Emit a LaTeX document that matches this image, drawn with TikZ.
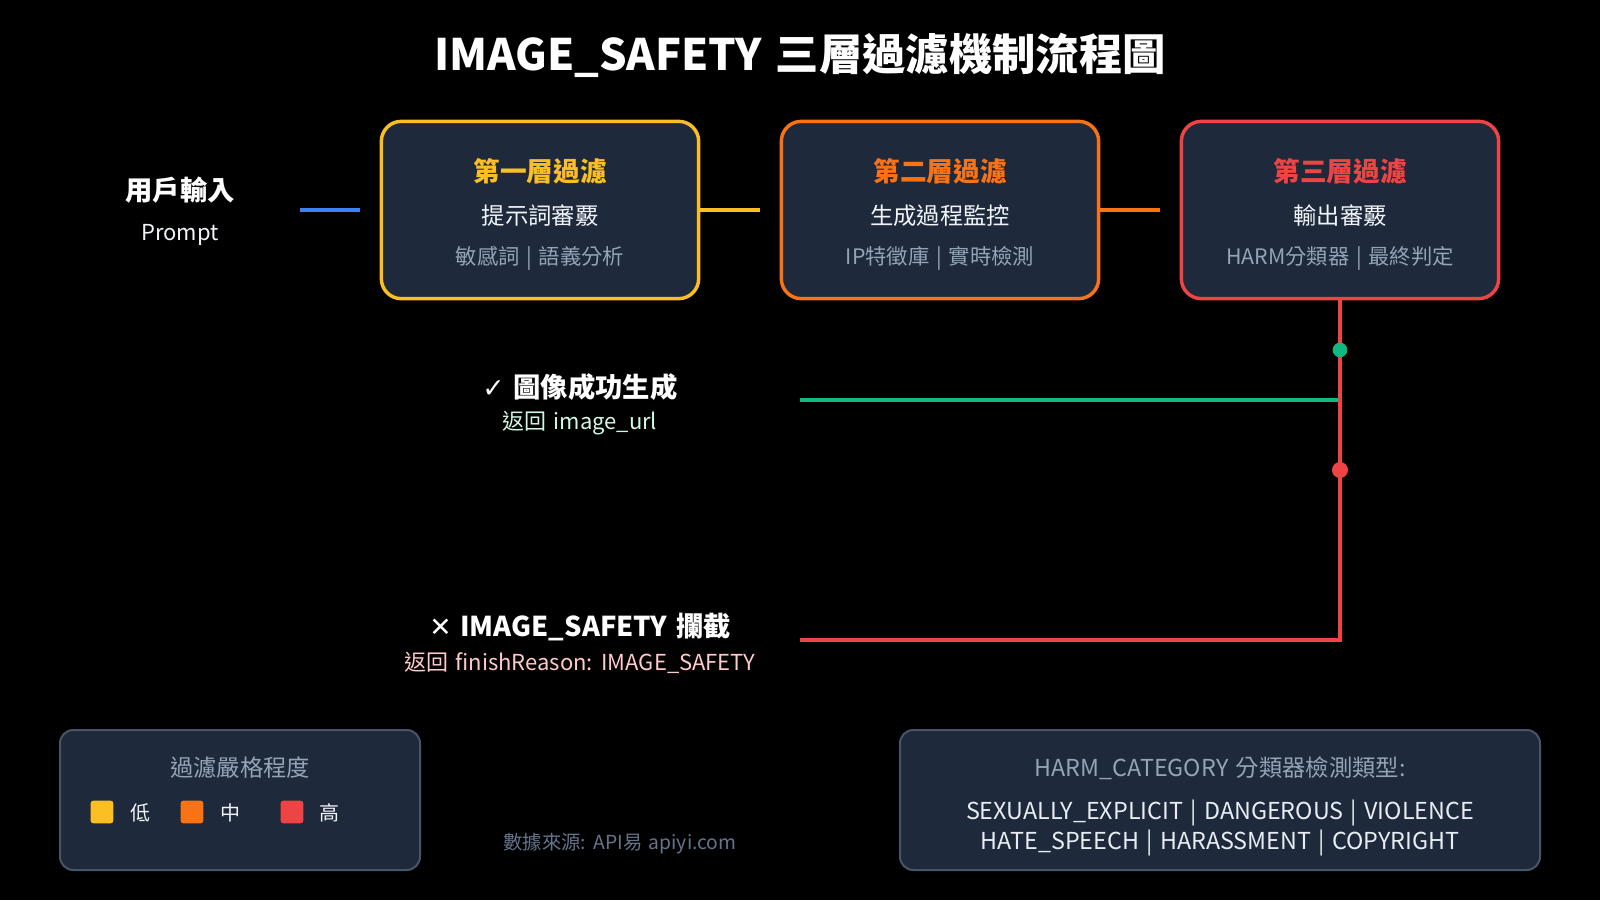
\documentclass[tikz,border=0pt]{standalone}
\usepackage{fontspec}
\setmainfont{Noto Sans CJK TC}[WordSpace=1.4]
\newfontfamily\symfont{DejaVu Sans}
\definecolor{boxfill}{HTML}{1E293B}
\definecolor{cyellow}{HTML}{FBBF24}
\definecolor{corange}{HTML}{F97316}
\definecolor{cred}{HTML}{EF4444}
\definecolor{cblue}{HTML}{3B82F6}
\definecolor{cgreen}{HTML}{10B981}
\definecolor{cgrey}{HTML}{94A3B8}
\definecolor{cdim}{HTML}{64748B}
\definecolor{cborder}{HTML}{475569}
\definecolor{cwhite}{HTML}{F1F5F9}
\definecolor{clgreen}{HTML}{D1FAE5}
\definecolor{clred}{HTML}{FECACA}
\tikzset{
  layer/.style={draw, fill=boxfill, line width=2.6pt, rounded corners=15pt,
    minimum width=238pt, minimum height=133pt, inner sep=0pt},
  legendbox/.style={draw=cborder, fill=boxfill, line width=1.5pt, rounded corners=10pt, inner sep=0pt},
  ltitle/.style={font=\fontsize{20}{24}\selectfont\bfseries, inner sep=0pt},
  lsub/.style={font=\fontsize{17.5}{21}\selectfont, text=cwhite, inner sep=0pt},
  lsmall/.style={font=\fontsize{16}{19}\selectfont, text=cgrey, inner sep=0pt},
  conn/.style={line width=3.3pt},
  swatch/.style={minimum size=17pt, inner sep=0pt, rounded corners=2pt},
  lbl/.style={inner sep=0pt, text=cwhite, font=\fontsize{15}{18}\selectfont},
}
\begin{document}
\begin{tikzpicture}[x=0.75pt,y=-0.75pt]
\fill[black] (0,0) rectangle (1600,900);
\useasboundingbox (0,0) rectangle (1600,900);

% title
\node[inner sep=0pt, text=white, font=\fontsize{32.5}{38}\selectfont\bfseries] (title) at (800,55) {IMAGE\_SAFETY 三層過濾機制流程圖};

% user input
\node[inner sep=0pt, text=white, font=\fontsize{20.5}{24}\selectfont\bfseries] (user) at (180,190) {用戶輸入};
\node[inner sep=0pt, text=cwhite, font=\fontsize{16.5}{20}\selectfont] (prompt) at (180,235) {Prompt};

% layers
\node[layer, draw=cyellow] (l1) at (540,210) {};
\node[layer, draw=corange] (l2) at (940,210) {};
\node[layer, draw=cred] (l3) at (1340,210) {};

\node[ltitle, text=cyellow] (l1t) at (540,171) {第一層過濾};
\node[lsub] (l1s) at (540,216) {提示詞審覈};
\node[lsmall] (l1d) at (540,258) {敏感詞 | 語義分析};

\node[ltitle, text=corange] (l2t) at (940,171) {第二層過濾};
\node[lsub] (l2s) at (940,216) {生成過程監控};
\node[lsmall] (l2d) at (940,258) {IP特徵庫 | 實時檢測};

\node[ltitle, text=cred] (l3t) at (1340,171) {第三層過濾};
\node[lsub] (l3s) at (1340,216) {輸出審覈};
\node[lsmall] (l3d) at (1340,258) {HARM分類器 | 最終判定};

% connectors
\coordinate (b0) at (300,210);
\coordinate (b1) at (360,210);
\coordinate (y1) at (760,210);
\coordinate (o1) at (1160,210);
\draw[conn, cblue] (b0) -- (b1);
\draw[conn, cyellow] (l1.east) -- (y1);
\draw[conn, corange] (l2.east) -- (o1);

\coordinate (gj) at (1340,400);
\coordinate (ge) at (800,400);
\coordinate (rc) at (1340,640);
\coordinate (re) at (800,640);
\draw[line width=2.6pt, cgreen] (gj) -- (ge);
\draw[conn, cred] (l3.south) -- (rc) -- (re);
\node[circle, fill=cgreen, minimum size=11pt, inner sep=0pt] (gdot) at (1340,350) {};
\node[circle, fill=cred, minimum size=12pt, inner sep=0pt] (rdot) at (1340,470) {};

% outcomes
\node[inner sep=0pt, text=white, font=\fontsize{20.5}{24}\selectfont\bfseries] (ok) at (580,387) {{\symfont\bfseries\fontsize{20}{22}\selectfont ✓} 圖像成功生成};
\node[inner sep=0pt, text=clgreen, font=\fontsize{16.5}{20}\selectfont] (okr) at (580,423) {返回 image\_url};
\node[inner sep=0pt, text=white, font=\fontsize{20.5}{24}\selectfont\bfseries] (no) at (580,627) {{\symfont\bfseries\fontsize{20}{22}\selectfont ✕} IMAGE\_SAFETY 攔截};
\node[inner sep=0pt, text=clred, font=\fontsize{16.5}{20}\selectfont] (nor) at (580,663) {返回 finishReason: IMAGE\_SAFETY};

% legend 1
\draw[legendbox] (60,730) rectangle (420,870);
\node[inner sep=0pt, text=cgrey, font=\fontsize{17.5}{20}\selectfont] (lgt) at (240,768) {過濾嚴格程度};
\node[swatch, fill=cyellow] (s1) at (102,812) {};
\node[lbl, anchor=west] (s1l) at (130,813) {低};
\node[swatch, fill=corange] (s2) at (192,812) {};
\node[lbl, anchor=west] (s2l) at (220,813) {中};
\node[swatch, fill=cred] (s3) at (292,812) {};
\node[lbl, anchor=west] (s3l) at (319,813) {高};

% footer
\node[inner sep=0pt, text=cdim, font=\fontsize{14.5}{17}\selectfont] (src) at (620,844) {數據來源: API易 apiyi.com};

% legend 2
\draw[legendbox] (900,730) rectangle (1540,870);
\node[inner sep=0pt, text=cgrey, font=\fontsize{17.5}{20}\selectfont] (hct) at (1220,768) {HARM\_CATEGORY 分類器檢測類型:};
\node[inner sep=0pt, text=cwhite!90!cgrey, font=\fontsize{17.5}{20}\selectfont] (hc1) at (1220,813) {SEXUALLY\_EXPLICIT | DANGEROUS | VIOLENCE};
\node[inner sep=0pt, text=cwhite!90!cgrey, font=\fontsize{17.5}{20}\selectfont] (hc2) at (1220,843) {HATE\_SPEECH | HARASSMENT | COPYRIGHT};
\end{tikzpicture}
\end{document}
